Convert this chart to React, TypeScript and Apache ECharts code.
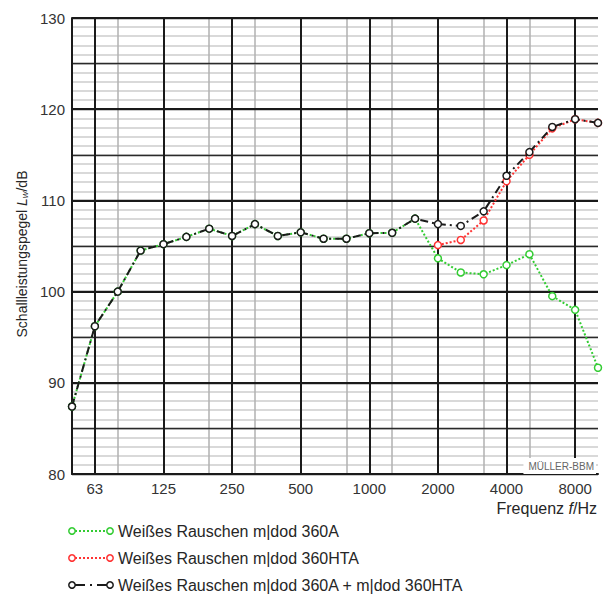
import React, { useEffect, useRef } from "react";
import * as echarts from "echarts";

const freqs = ["50","63","80","100","125","160","200","250","315","400","500","630","800","1000","1250","1600","2000","2500","3150","4000","5000","6300","8000","10000"];
const octaveLabels = ["63","125","250","500","1000","2000","4000","8000"];
const yTicks = [80, 90, 100, 110, 120, 130];

const combined = [87.4, 96.2, 100.0, 104.5, 105.2, 106.0, 106.9, 106.1, 107.4, 106.1, 106.5, 105.8, 105.8, 106.4, 106.45, 108.0, 107.4, 107.2, 108.8, 112.7, 115.3, 118.05, 118.9, 118.5];
const m360A = [87.4, 96.2, 100.0, 104.5, 105.2, 106.0, 106.9, 106.1, 107.4, 106.1, 106.5, 105.8, 105.8, 106.4, 106.45, 108.0, 103.65, 102.1, 101.9, 102.9, 104.1, 99.5, 98.0, 91.65];
const m360HTA = [null, null, null, null, null, null, null, null, null, null, null, null, null, null, null, null, 105.1, 105.66, 107.8, 112.1, 115.0, 117.9, 118.9, 118.5];

const names = [
  "Weißes Rauschen m|dod 360A",
  "Weißes Rauschen m|dod 360HTA",
  "Weißes Rauschen m|dod 360A + m|dod 360HTA",
];
const GREEN = "#33cc33";
const RED = "#ff3333";
const BLACK = "#1a1a1a";
const FONT = 'Arial, "Liberation Sans", sans-serif';

export default function App() {
  const ref = useRef<HTMLDivElement>(null);
  useEffect(() => {
    if (!ref.current) return;
    const chart = echarts.init(ref.current, null, { renderer: "svg" });
    const isOct = (i: number) => octaveLabels.includes(freqs[i]);
    const legendItems = [
      { name: names[0], color: GREEN, dash: [2, 2], y: 531 },
      { name: names[1], color: RED, dash: [2, 2], y: 558 },
      { name: names[2], color: BLACK, dash: [10, 5, 2, 5], y: 585 },
    ];
    const legendGraphics: any[] = [];
    legendItems.forEach((it) => {
      legendGraphics.push({
        type: "line", shape: { x1: 75, y1: it.y, x2: 107, y2: it.y },
        style: { stroke: it.color, lineWidth: 2, lineDash: it.dash }, z: 10,
      });
      [72, 110].forEach((cx) => legendGraphics.push({
        type: "circle", shape: { cx, cy: it.y, r: 3.2 },
        style: { fill: "#fff", stroke: it.color, lineWidth: 1.5 }, z: 11,
      }));
      legendGraphics.push({
        type: "text", x: 118, y: it.y,
        style: { text: it.name, fill: "#262626", font: `16px ${FONT}`, verticalAlign: "middle", align: "left" }, z: 10,
      });
    });

    const sym = (c: string) => ({
      symbol: "circle", symbolSize: 7, showSymbol: true,
      itemStyle: { color: "#fff", borderColor: c, borderWidth: 1.5 },
    });

    chart.setOption({
      animation: false,
      grid: { left: 72, right: 12, top: 18, bottom: 124, containLabel: false },
      xAxis: [
        {
          type: "category", data: freqs, boundaryGap: false, position: "bottom", z: 1,
          axisLine: { show: false }, axisTick: { show: false }, axisLabel: { show: false },
          splitLine: { show: true, lineStyle: { color: "#b0b0b0", width: 1.5 } },
        },
        {
          type: "category", data: freqs, boundaryGap: false, position: "bottom", z: 3,
          axisLine: { show: true, lineStyle: { color: BLACK, width: 2 } },
          axisTick: { show: false },
          axisLabel: { show: true, interval: (i: number) => isOct(i), color: "#333", fontSize: 15, fontFamily: FONT, margin: 7 },
          splitLine: { show: true, interval: (i: number) => isOct(i), lineStyle: { color: BLACK, width: 2 } },
        },
      ],
      yAxis: [
        {
          type: "value", min: 80, max: 130, interval: 1, position: "left", z: 0,
          axisLine: { show: false }, axisTick: { show: false }, axisLabel: { show: false },
          splitLine: { show: true, lineStyle: { color: "#cccccc", width: 1.5 } },
        },
        {
          type: "value", min: 80, max: 130, interval: 5, position: "left", z: 2,
          axisLine: { show: false }, axisTick: { show: false }, axisLabel: { show: false },
          splitLine: { show: true, lineStyle: { color: "#2a2a2a", width: 1.3 } },
        },
        {
          type: "value", min: 80, max: 130, interval: 10, position: "left", z: 3,
          axisLine: { show: true, lineStyle: { color: BLACK, width: 2 } },
          axisTick: { show: false },
          axisLabel: { show: true, color: "#333", fontSize: 15, fontFamily: FONT, margin: 7,
            formatter: (v: number) => (yTicks.includes(v) ? String(v) : "") },
          splitLine: { show: true, lineStyle: { color: BLACK, width: 2 } },
        },
      ],
      series: [
        {
          name: names[0], type: "line", data: m360A, xAxisIndex: 1, yAxisIndex: 2, z: 10,
          lineStyle: { color: GREEN, width: 2, type: [2, 2] }, ...sym(GREEN),
        },
        {
          name: names[1], type: "line", data: m360HTA, xAxisIndex: 1, yAxisIndex: 2, z: 11,
          lineStyle: { color: RED, width: 2, type: [2, 2] }, ...sym(RED),
        },
        {
          name: names[2], type: "line", data: combined, xAxisIndex: 1, yAxisIndex: 2, z: 12,
          lineStyle: { color: BLACK, width: 2, type: [8, 4, 2, 4] }, ...sym(BLACK),
        },
      ],
      graphic: [
        {
          type: "text", x: 22, y: 254, rotation: Math.PI / 2, z: 10,
          style: {
            text: "Schallleistungspegel {i|L}{sub|W}/dB",
            fill: "#262626", font: `14px ${FONT}`, align: "center", verticalAlign: "middle",
            rich: {
              i: { fontStyle: "italic", fontSize: 14, fontFamily: FONT, fill: "#262626" },
              sub: { fontStyle: "italic", fontSize: 7, fontFamily: FONT, fill: "#262626", verticalAlign: "bottom", lineHeight: 10, padding: [6, 0, 0, 0] },
            },
          },
        },
        {
          type: "text", x: 597, y: 508, z: 10,
          style: {
            text: "Frequenz {i|f}/Hz", fill: "#262626", font: `16px ${FONT}`, align: "right", verticalAlign: "middle",
            rich: { i: { fontStyle: "italic", fontSize: 16, fontFamily: FONT, fill: "#262626" } },
          },
        },
        {
          type: "text", x: 596, y: 466, z: 20,
          style: {
            text: "MÜLLER-BBM", fill: "#666", font: `10px ${FONT}`, align: "right", verticalAlign: "middle",
            backgroundColor: "#fff", padding: [3, 2, 3, 5],
          },
        },
        ...legendGraphics,
      ],
    });
    return () => chart.dispose();
  }, []);
  return <div ref={ref} style={{ position: "absolute", left: 0, top: 0, width: 610, height: 598 }} />;
}
